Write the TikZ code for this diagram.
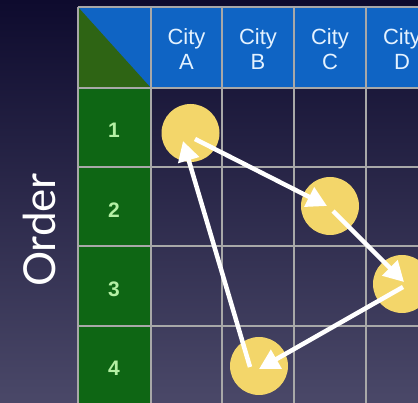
\documentclass[tikz,border=0pt]{standalone}
\usepackage{fontspec}
\setmainfont{Liberation Sans}
\newfontfamily\orderfont{Lato}
\usetikzlibrary{arrows.meta}
\definecolor{bgtop}{HTML}{0E0B2E}
\definecolor{bgbot}{HTML}{4A4868}
\definecolor{hdrblue}{HTML}{0F64C4}
\definecolor{rowgreen}{HTML}{0E6614}
\definecolor{tri}{HTML}{2E6414}
\definecolor{gridgray}{HTML}{A8A8A8}
\definecolor{dot}{HTML}{F3D66A}
\definecolor{hdrtext}{HTML}{E4F2FF}
\definecolor{numtext}{HTML}{B4F0A4}
\tikzset{
  citylabel/.style={text=hdrtext, font=\fontsize{22}{25}\selectfont, align=center, inner sep=0pt},
  numlabel/.style={text=numtext, font=\bfseries\fontsize{21}{24}\selectfont, inner sep=0pt},
  citydot/.style={circle, fill=dot, minimum size=58pt, inner sep=0pt},
  tour/.style={draw=white, line width=4.5pt, -{Triangle[length=20pt,width=21pt]}},
  gridline/.style={draw=gridgray, line width=1.8pt}
}
\begin{document}
\begin{tikzpicture}[x=1pt,y=-1pt]
\useasboundingbox (0,0) rectangle (418,403);
\clip (0,0) rectangle (418,403);
\shade[top color=bgtop, bottom color=bgbot] (0,0) rectangle (418,403);
% header row
\fill[hdrblue] (78,7) rectangle (440,88);
% corner triangle
\fill[tri] (78,7) -- (78,88) -- (151,88) -- cycle;
% order column
\fill[rowgreen] (78,88) rectangle (151,420);
% grid
\foreach \x in {78,151,222,294,366} \draw[gridline] (\x,7) -- (\x,420);
\foreach \y in {7,88,167,246,326} \draw[gridline] (78,\y) -- (440,\y);
% header labels
\node[citylabel] (ca) at (186.5,49) {City\\A};
\node[citylabel] (cb) at (258,49) {City\\B};
\node[citylabel] (cc) at (330,49) {City\\C};
\node[citylabel] (cd) at (402,49) {City\\D};
% row labels
\node[numlabel] (n1) at (114,130) {1};
\node[numlabel] (n2) at (114,210) {2};
\node[numlabel] (n3) at (114,289) {3};
\node[numlabel] (n4) at (114,368) {4};
% axis label
\node[text=white, font=\orderfont\fontsize{44}{50}\selectfont, rotate=90, inner sep=0pt] (order) at (39,230) {Order};
% dots
\node[citydot] (d1) at (190.5,133) {};
\node[citydot] (d2) at (330,206) {};
\node[citydot] (d3) at (402,284) {};
\node[citydot] (d4) at (259,366) {};
% tour arrows
\coordinate (a1s) at (195,139);
\coordinate (a1e) at (327,206);
\coordinate (a2s) at (333,211);
\coordinate (a2e) at (404,282);
\coordinate (a3s) at (403,287);
\coordinate (a3e) at (259,369);
\coordinate (a4s) at (250,367);
\coordinate (a4e) at (183,141);
\draw[tour] (a1s) -- (a1e);
\draw[tour] (a2s) -- (a2e);
\draw[tour] (a3s) -- (a3e);
\draw[tour] (a4s) -- (a4e);
\end{tikzpicture}
\end{document}
